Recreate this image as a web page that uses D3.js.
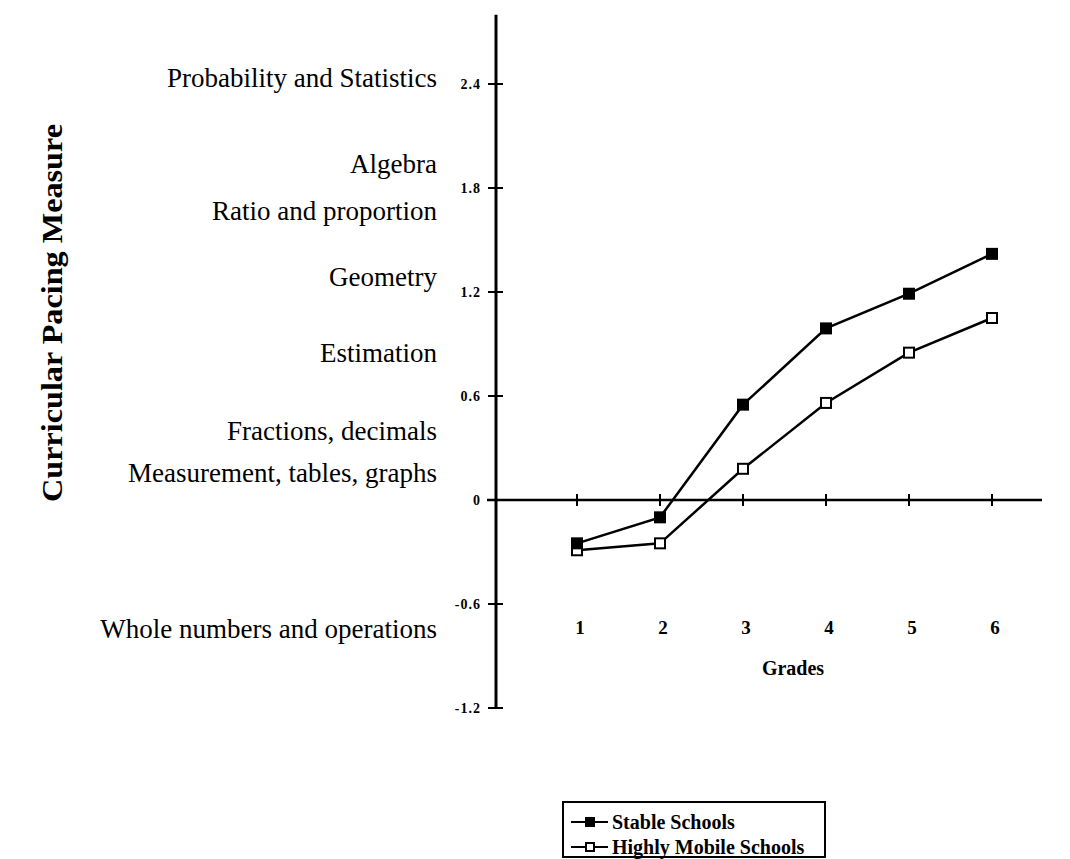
<!DOCTYPE html>
<html>
<head>
<meta charset="utf-8">
<script src="https://cdn.jsdelivr.net/npm/d3@7"></script>
<style>
  html, body { margin: 0; padding: 0; background: #fff; }
  svg { display: block; font-family: "Liberation Serif", "Times New Roman", serif; }
</style>
</head>
<body>
<svg id="chart" width="1070" height="859"></svg>
<script>
// ---- data ----
const grades = [1, 2, 3, 4, 5, 6];
const stableSchools = [-0.25, -0.10, 0.55, 0.99, 1.19, 1.42];
const mobileSchools = [-0.29, -0.25, 0.18, 0.56, 0.85, 1.05];
const yTicks = [-1.2, -0.6, 0, 0.6, 1.2, 1.8, 2.4];
const yTickLabels = ["-1.2", "-0.6", "0", "0.6", "1.2", "1.8", "2.4"];
const topicLabels = ["Probability and Statistics", "Algebra", "Ratio and proportion", "Geometry",
  "Estimation", "Fractions, decimals", "Measurement, tables, graphs", "Whole numbers and operations"];
const topicLevels = [2.44, 1.94, 1.67, 1.29, 0.85, 0.40, 0.16, -0.74];
const seriesNames = ["Stable Schools", "Highly Mobile Schools"];

// ---- scales ----
const svg = d3.select("#chart");
const x = d3.scaleLinear().domain([1, 6]).range([577, 992]);
const y = d3.scaleLinear().domain([-1.2, 2.4]).range([708, 84]);
const axisX = 496;

// y axis line
svg.append("line")
  .attr("x1", axisX).attr("x2", axisX)
  .attr("y1", y(2.8)).attr("y2", y(-1.2))
  .attr("stroke", "#000").attr("stroke-width", 3);

// y ticks
const yt = svg.append("g").selectAll("g").data(yTicks).join("g");
yt.append("line")
  .attr("x1", axisX - 8).attr("x2", axisX + 7)
  .attr("y1", d => y(d)).attr("y2", d => y(d))
  .attr("stroke", "#000").attr("stroke-width", 2);
yt.append("text")
  .attr("x", 481).attr("y", d => y(d))
  .attr("dy", "0.35em")
  .attr("text-anchor", "end")
  .attr("font-size", 14).attr("font-weight", "bold")
  .attr("letter-spacing", 1)
  .text((d, i) => yTickLabels[i]);

// x axis line at 0
svg.append("line")
  .attr("x1", axisX - 9).attr("x2", 1042)
  .attr("y1", y(0)).attr("y2", y(0))
  .attr("stroke", "#000").attr("stroke-width", 2.5);

// x ticks
svg.append("g").selectAll("line").data(grades).join("line")
  .attr("x1", d => x(d)).attr("x2", d => x(d))
  .attr("y1", y(0) - 6).attr("y2", y(0) + 6)
  .attr("stroke", "#000").attr("stroke-width", 2);

// grade labels
svg.append("g").selectAll("text").data(grades).join("text")
  .attr("x", d => x(d) + 3).attr("y", 634)
  .attr("text-anchor", "middle")
  .attr("font-size", 19).attr("font-weight", "bold")
  .text(d => d);

// Grades title
svg.append("text")
  .attr("x", 793).attr("y", 675)
  .attr("text-anchor", "middle")
  .attr("font-size", 20).attr("font-weight", "bold")
  .text("Grades");

// topic labels
svg.append("g").selectAll("text").data(topicLabels).join("text")
  .attr("x", 437).attr("y", (d, i) => y(topicLevels[i]))
  .attr("dy", "0.35em")
  .attr("text-anchor", "end")
  .attr("font-size", 27)
  .text(d => d);

// y axis title
svg.append("text")
  .attr("transform", "translate(62,313) rotate(-90)")
  .attr("text-anchor", "middle")
  .attr("font-size", 30).attr("font-weight", "bold")
  .attr("textLength", 378).attr("lengthAdjust", "spacingAndGlyphs")
  .text("Curricular Pacing Measure");

// lines
const line = d3.line().x(d => x(d[0])).y(d => y(d[1]));
const series = [
  { name: seriesNames[0], values: stableSchools, fill: "#000" },
  { name: seriesNames[1], values: mobileSchools, fill: "#fff" }
];
series.forEach(s => {
  const pts = grades.map((g, i) => [g, s.values[i]]);
  svg.append("path").datum(pts)
    .attr("d", line)
    .attr("fill", "none").attr("stroke", "#000").attr("stroke-width", 2.5);
});
// markers (draw after lines)
series.slice().reverse().forEach(s => {
  const pts = grades.map((g, i) => [g, s.values[i]]);
  svg.append("g").selectAll("rect").data(pts).join("rect")
    .attr("x", d => x(d[0]) - 5).attr("y", d => y(d[1]) - 5)
    .attr("width", 10).attr("height", 10)
    .attr("fill", s.fill).attr("stroke", "#000").attr("stroke-width", 2);
});

// legend
const lg = svg.append("g");
lg.append("rect")
  .attr("x", 563).attr("y", 802).attr("width", 262).attr("height", 55)
  .attr("fill", "none").attr("stroke", "#000").attr("stroke-width", 2);
series.forEach((s, i) => {
  const cy = 822 + i * 25;
  lg.append("line").attr("x1", 571).attr("x2", 608).attr("y1", cy).attr("y2", cy)
    .attr("stroke", "#000").attr("stroke-width", 2);
  lg.append("rect").attr("x", 586).attr("y", cy - 4).attr("width", 8).attr("height", 8)
    .attr("fill", s.fill).attr("stroke", "#000").attr("stroke-width", 2);
  lg.append("text").attr("x", 612).attr("y", cy).attr("dy", "0.35em")
    .attr("font-size", 20).attr("font-weight", "bold")
    .text(s.name);
});
</script>
</body>
</html>
